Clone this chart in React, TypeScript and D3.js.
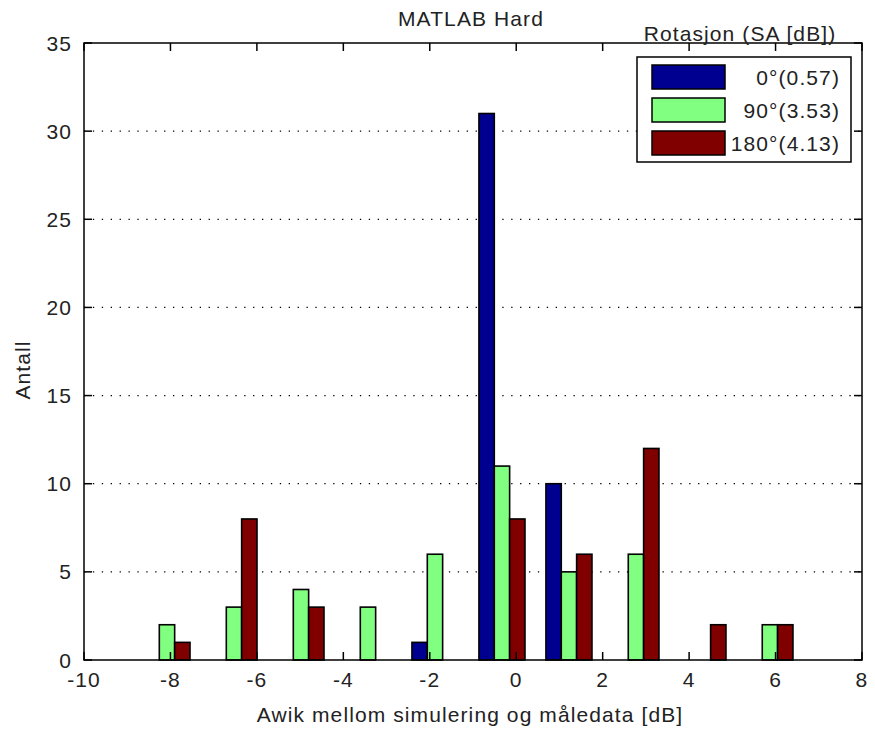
import React from "react";
import * as d3 from "d3";

const binCenters = [-8.08, -6.53, -4.98, -3.43, -1.88, -0.33, 1.22, 2.77, 4.32, 5.87];
const seriesNames = ["0°(0.57)", "90°(3.53)", "180°(4.13)"];
const seriesColors = ["#000090", "#80FF80", "#800000"];
const values0 = [0, 0, 0, 0, 1, 31, 10, 0, 0, 0];
const values90 = [2, 3, 4, 3, 6, 11, 5, 6, 0, 2];
const values180 = [1, 8, 3, 0, 0, 8, 6, 12, 2, 2];
const xTicks = [-10, -8, -6, -4, -2, 0, 2, 4, 6, 8];
const yTicks = [0, 5, 10, 15, 20, 25, 30, 35];

const W = 875, H = 730;
const M = { left: 84, right: 862, top: 43, bottom: 660 };
const FONT = "Liberation Sans, Arial, sans-serif";
const TXT = "#222";
const FS = 21;
const LS = 1.1;

export default function App() {
  const x = d3.scaleLinear().domain([-10, 8]).range([M.left, M.right]);
  const y = d3.scaleLinear().domain([0, 35]).range([M.bottom, M.top]);
  const barW = 0.355;
  const series = [values0, values90, values180];
  const tickLen = 8;

  const bars: JSX.Element[] = [];
  series.forEach((vals, si) => {
    vals.forEach((v, i) => {
      if (v <= 0) return;
      const c = binCenters[i] + (si - 1) * barW;
      const x0 = x(c - barW / 2), x1 = x(c + barW / 2);
      bars.push(
        <rect key={`b${si}-${i}`} x={x0} y={y(v)} width={x1 - x0} height={y(0) - y(v)}
          fill={seriesColors[si]} stroke="#000" strokeWidth={1.6} />
      );
    });
  });

  const lg = { x: 637, y: 57, w: 214, h: 105 };
  const tp = { fontSize: FS, fill: TXT, letterSpacing: LS } as any;
  return (
    <svg width={W} height={H} style={{ position: "absolute", left: 0, top: 0, background: "#fff" }}
      fontFamily={FONT}>
      <rect x={0} y={0} width={W} height={H} fill="#fff" />
      {/* grid */}
      {yTicks.filter(t => t > 0 && t < 35).map(t => (
        <line key={`g${t}`} x1={M.left} x2={M.right} y1={y(t)} y2={y(t)} stroke="#000"
          strokeWidth={1.3} strokeDasharray="1.3 7.6" />
      ))}
      {bars}
      {/* axes box */}
      <rect x={M.left} y={M.top} width={M.right - M.left} height={M.bottom - M.top}
        fill="none" stroke="#000" strokeWidth={1.5} />
      {xTicks.map(t => (
        <g key={`xt${t}`}>
          <line x1={x(t)} x2={x(t)} y1={M.bottom} y2={M.bottom - tickLen} stroke="#000" strokeWidth={1.5} />
          <line x1={x(t)} x2={x(t)} y1={M.top} y2={M.top + tickLen} stroke="#000" strokeWidth={1.5} />
          <text x={x(t)} y={M.bottom + 27} textAnchor="middle" {...tp}>{t}</text>
        </g>
      ))}
      {yTicks.map(t => (
        <g key={`yt${t}`}>
          <line x1={M.left} x2={M.left + tickLen} y1={y(t)} y2={y(t)} stroke="#000" strokeWidth={1.5} />
          <line x1={M.right} x2={M.right - tickLen} y1={y(t)} y2={y(t)} stroke="#000" strokeWidth={1.5} />
          <text x={M.left - 12} y={y(t) + 7.5} textAnchor="end" {...tp}>{t}</text>
        </g>
      ))}
      <text x={471} y={26} textAnchor="middle" {...tp}>MATLAB Hard</text>
      <text x={470} y={722} textAnchor="middle" {...tp}>Awik mellom simulering og måledata [dB]</text>
      <text transform={`translate(30,370) rotate(-90)`} textAnchor="middle" {...tp}>Antall</text>
      {/* legend */}
      <text x={740} y={41} textAnchor="middle" {...tp}>Rotasjon (SA [dB])</text>
      <rect x={lg.x} y={lg.y} width={lg.w} height={lg.h} fill="#fff" stroke="#000" strokeWidth={1.5} />
      {seriesNames.map((n, i) => (
        <g key={`l${i}`}>
          <rect x={652} y={65 + i * 33} width={73} height={24} fill={seriesColors[i]} stroke="#000" strokeWidth={1.5} />
          <text x={840} y={85 + i * 33} textAnchor="end" {...tp}>{n}</text>
        </g>
      ))}
    </svg>
  );
}
